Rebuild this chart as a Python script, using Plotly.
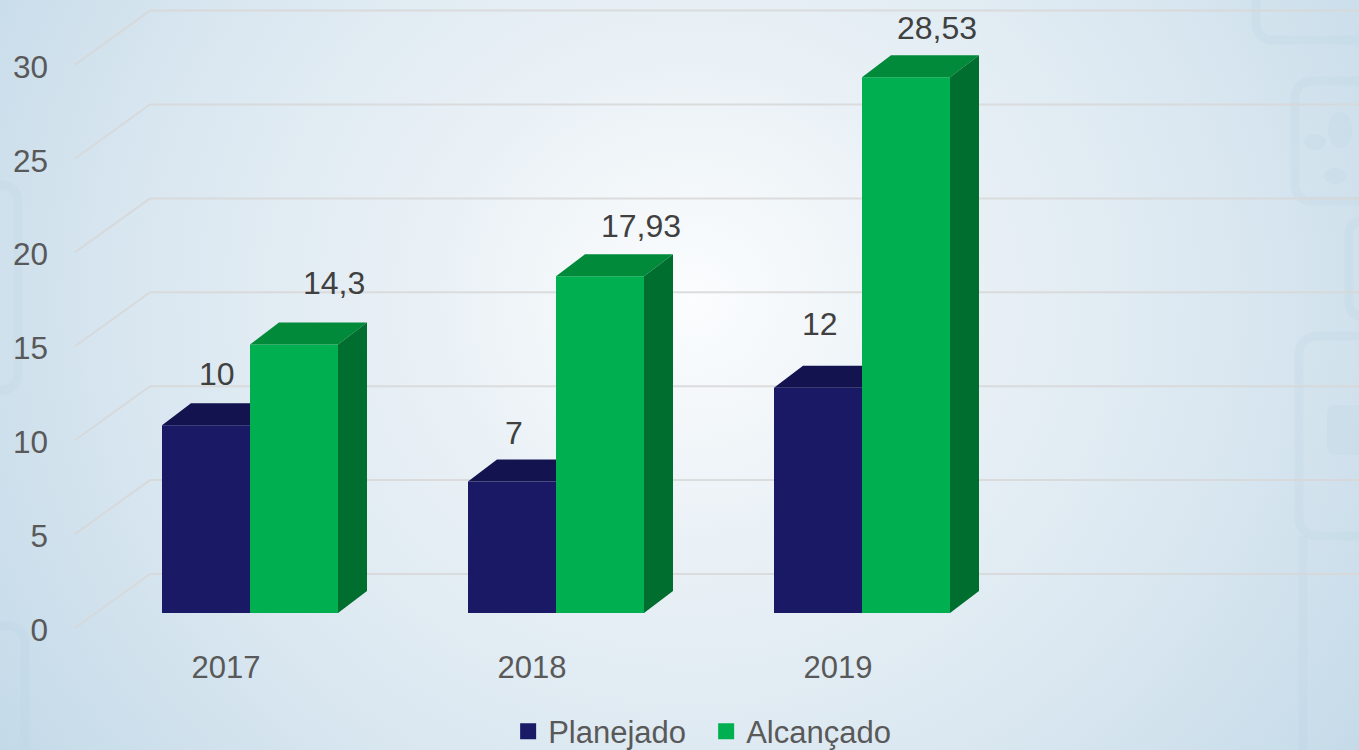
import base64
import plotly.graph_objects as go

years = ["2017", "2018", "2019"]
planejado = [10, 7, 12]
alcancado = [14.3, 17.93, 28.53]
y_ticks = [0, 5, 10, 15, 20, 25, 30]
# label nudges (px) as in the picture
plan_label_shift = [(11, 51), (2, 49), (2, 64)]
alc_label_shift = [(40, 61), (41, 50), (31, 49)]

W, H = 1359, 750
ML, MB = 52, 100
PLOT_H = H - MB
PX_X = 306.0           # px per category
PX_Y = 18.78           # px per value unit
X0_PX, Y0_PX = 250.0, 613.0
BAR_W = 88 / PX_X
DX, DY = 29 / PX_X, 22 / PX_Y

def ux(px):
    return (px - X0_PX) / PX_X

xs = list(range(len(years)))

svg = f'''<svg xmlns="http://www.w3.org/2000/svg" width="{W}" height="{H}" viewBox="0 0 {W} {H}">
<defs><radialGradient id="g" gradientUnits="userSpaceOnUse" cx="690" cy="300" r="850"
 gradientTransform="translate(690 300) scale(1 0.95) translate(-690 -300)">
<stop offset="0" stop-color="#fbfdfe"/><stop offset="0.3" stop-color="#eaf1f6"/>
<stop offset="0.62" stop-color="#dbe8f1"/><stop offset="1" stop-color="#c3d9e8"/></radialGradient></defs>
<rect width="{W}" height="{H}" fill="url(#g)"/>
<g fill="none" stroke="#b9d2e3" stroke-opacity="0.2" stroke-width="9">
<rect x="1256" y="-60" width="160" height="100" rx="16"/>
<rect x="1295" y="81" width="120" height="120" rx="16"/>
<rect x="1349" y="221" width="80" height="95" rx="12"/>
<rect x="1299" y="336" width="120" height="200" rx="18"/>
<path d="M1303 536 V750"/>
<rect x="-60" y="185" width="78" height="205" rx="16"/>
<rect x="-60" y="626" width="85" height="180" rx="16"/>
</g>
<g fill="#b9d2e3" fill-opacity="0.2">
<ellipse cx="1315" cy="142" rx="11" ry="8"/>
<ellipse cx="1340" cy="130" rx="12" ry="18"/>
<ellipse cx="1335" cy="176" rx="11" ry="8"/>
<rect x="1327" y="405" width="40" height="50" rx="8"/>
</g></svg>'''
bg_uri = "data:image/svg+xml;base64," + base64.b64encode(svg.encode()).decode()

fig = go.Figure()
fig.add_bar(x=xs, y=planejado, name="Planejado", marker=dict(color="#191966", line_width=0),
            showlegend=False, hoverinfo="skip")
fig.add_bar(x=xs, y=alcancado, name="Alcançado", marker=dict(color="#00B050", line_width=0),
            showlegend=False, hoverinfo="skip")

def poly(points_list):
    px, py = [], []
    for pts in points_list:
        px += [p[0] for p in pts] + [None]
        py += [p[1] for p in pts] + [None]
    return px, py

# depth faces derived from the data
plan_top, alc_top, alc_side = [], [], []
for x, p, a in zip(xs, planejado, alcancado):
    l, m, r = x - BAR_W, x, x + BAR_W
    plan_top.append([(l, p), (l + DX, p + DY), (m, p + DY), (m, p), (l, p)])
    alc_top.append([(m, a), (m + DX, a + DY), (r + DX, a + DY), (r, a), (m, a)])
    alc_side.append([(r, 0), (r + DX, DY), (r + DX, a + DY), (r, a), (r, 0)])

for pts, col in [(plan_top, "#13134F"), (alc_top, "#008A3A"), (alc_side, "#006E2E")]:
    px, py = poly(pts)
    fig.add_scatter(x=px, y=py, mode="lines", fill="toself", fillcolor=col,
                    line=dict(width=0, color=col), showlegend=False, hoverinfo="skip")

# legend entries
for name, col in [("Planejado", "#191966"), ("Alcançado", "#00B050")]:
    fig.add_scatter(x=[None], y=[None], mode="markers", name=name,
                    marker=dict(symbol="square", size=16, color=col))

# side-wall and back-wall grid
FRONT_DROP = 15 / PX_Y
BACK_RISE = 39 / PX_Y
LABEL_DROP = 17 / PX_Y
shapes = []
for v in y_ticks:
    lc = dict(color="rgba(215,215,215,0.85)", width=2)
    shapes.append(dict(type="line", xref="x", yref="y", layer="below", line=lc,
                       x0=ux(75), y0=v - FRONT_DROP, x1=ux(150), y1=v + BACK_RISE))
    shapes.append(dict(type="line", xref="x", yref="y", layer="below", line=lc,
                       x0=ux(150), y0=v + BACK_RISE, x1=ux(W), y1=v + BACK_RISE))

# value labels
def fmt(v):
    return str(v).replace(".", ",")

annots = []
for series, shifts, off in [(planejado, plan_label_shift, -BAR_W / 2), (alcancado, alc_label_shift, BAR_W / 2)]:
    for x, v, (sx, sy) in zip(xs, series, shifts):
        annots.append(dict(x=x + off, y=v, text=fmt(v), showarrow=False, xshift=sx, yshift=sy,
                           xanchor="center", yanchor="middle",
                           font=dict(family="Liberation Sans", size=32, color="#404040")))

fig.update_layout(
    width=W, height=H, autosize=False,
    margin=dict(l=ML, r=0, t=0, b=MB, pad=0, autoexpand=False),
    paper_bgcolor="#dce9f1", plot_bgcolor="rgba(0,0,0,0)",
    barmode="group", bargap=1 - 2 * BAR_W, bargroupgap=0,
    font=dict(family="Liberation Sans", size=31, color="#595959"),
    xaxis=dict(range=[ux(ML), ux(W)], tickmode="array", automargin=False,
               tickvals=[x + ux(226) for x in xs], ticktext=years, ticklabelstandoff=-4,
               showgrid=False, zeroline=False, showline=False, ticks="", ticklen=0),
    yaxis=dict(range=[(Y0_PX - PLOT_H) / PX_Y, Y0_PX / PX_Y], tickmode="array", automargin=False,
               tickvals=[v - LABEL_DROP for v in y_ticks], ticktext=[str(v) for v in y_ticks],
               ticklabelstandoff=3, tickfont=dict(size=31.5),
               showgrid=False, zeroline=False, showline=False, ticks="", ticklen=0),
    legend=dict(orientation="h", x=0.349, y=-0.084, xanchor="left", yanchor="top",
                bgcolor="rgba(0,0,0,0)", font=dict(size=31, color="#595959"),
                itemsizing="trace", entrywidth=153, entrywidthmode="pixels"),
    shapes=shapes, annotations=annots,
    images=[dict(source=bg_uri, xref="paper", yref="paper", x=-ML / (W - ML), y=1,
                 sizex=W / (W - ML), sizey=H / PLOT_H, xanchor="left", yanchor="top",
                 sizing="stretch", layer="below")],
)
fig.write_html("out.html", config={"displayModeBar": False},
               post_script="document.body.style.margin='0';document.documentElement.style.overflow='hidden';")
